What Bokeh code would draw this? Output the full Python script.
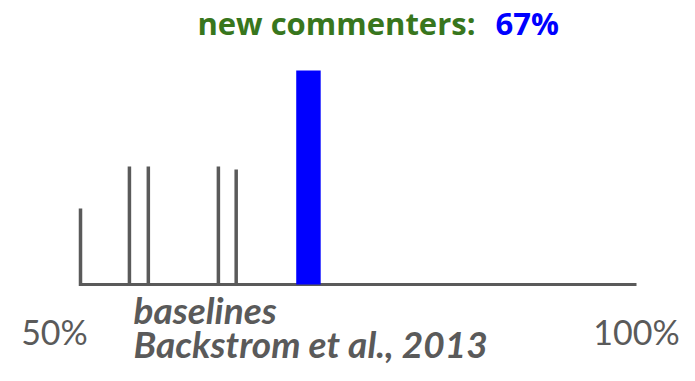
from bokeh.plotting import figure
from bokeh.models import Range1d
from bokeh.core.properties import value
from bokeh.embed import file_html
from bokeh.resources import INLINE

# ---- data ----
axis_min = 50
axis_max = 100
tick_values = [50, 100]
tick_labels = ["50%", "100%"]
baseline_x = [50.0, 54.4, 56.1, 62.4, 64.0]
baseline_h = [76, 118, 118, 118, 115]
bar_left = [69.4]
bar_right = [71.6]
bar_h = [214]
title_main = "new commenters:"
title_value = "67%"
note_lines = ["baselines", "Backstrom et al., 2013"]

GRAY = "#5a5a5a"
GREEN = "#38761d"
BLUE = "#0000ff"
FONT = "Lato"
TITLE_FONT = "Open Sans"

W, H = 679, 365
px_per_unit = 556 / 50.0
x0_px = 80.0   # px of axis_min
base_px = 284.0  # px from top of the axis line

p = figure(width=W, height=H, output_backend="svg", toolbar_location=None,
           min_border=0, outline_line_color=None,
           x_range=Range1d(axis_min - x0_px / px_per_unit,
                           axis_max + (W - x0_px - 556) / px_per_unit),
           y_range=Range1d(-(H - base_px), base_px))
p.axis.visible = False
p.grid.visible = False
p.background_fill_color = None
p.border_fill_color = None

# axis line
p.segment(x0=[axis_min], y0=[0], x1=[axis_max], y1=[0], line_color=GRAY, line_width=3)

# baseline ticks
p.segment(x0=baseline_x, y0=[-1.5] * len(baseline_x), x1=baseline_x, y1=baseline_h,
          line_color=GRAY, line_width=3.5)

# new commenters bar
p.quad(left=bar_left, right=bar_right, bottom=[0], top=bar_h,
       fill_color=BLUE, line_color=None)

# tick labels
p.text(x=[tick_values[0]], y=[-47], text=[tick_labels[0]], text_align="center",
       x_offset=-26, text_baseline="alphabetic", text_color=GRAY,
       text_font=value(FONT), text_font_size="34px")
p.text(x=[tick_values[1]], y=[-47], text=[tick_labels[1]], text_align="center",
       text_baseline="alphabetic", text_color=GRAY,
       text_font=value(FONT), text_font_size="34px")

# note
p.text(x=[54.77, 54.77], y=[-25, -59], text=note_lines, text_align="left",
       text_baseline="alphabetic", text_color=GRAY, text_font=value(FONT),
       text_font_size="37px", text_font_style="bold italic")

# title
p.text(x=[85.52], y=[262], text=[title_main], text_align="right",
       text_baseline="alphabetic", text_color=GREEN, text_font=value(TITLE_FONT),
       text_font_size="31px", text_font_style="bold")
p.text(x=[87.32], y=[262], text=[title_value], text_align="left",
       text_baseline="alphabetic", text_color=BLUE, text_font=value(TITLE_FONT),
       text_font_size="31px", text_font_style="bold")

open("out.html", "w").write(file_html(p, INLINE))
